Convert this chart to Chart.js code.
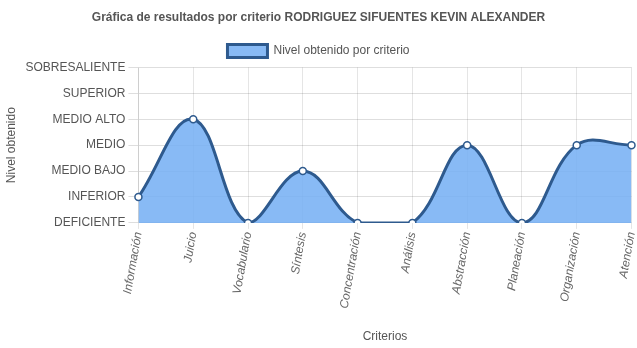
<!DOCTYPE html>
<html><head><meta charset="utf-8">
<script src="https://cdn.jsdelivr.net/npm/chart.js@4/dist/chart.umd.min.js"></script>
<style>html,body{margin:0;padding:0;background:#fff}#w{width:637px;height:348px}</style>
</head><body><div id="w"><canvas id="c"></canvas></div>
<script>
const categories = ["Información","Juicio","Vocabulario","Síntesis","Concentración","Análisis","Abstracción","Planeación","Organización","Atención"];
const levels = [1,4,0,2,0,0,3,0,3,3];
const levelLabels = ["DEFICIENTE","INFERIOR","MEDIO BAJO","MEDIO","MEDIO ALTO","SUPERIOR","SOBRESALIENTE"];
Chart.defaults.font.family = "'Liberation Sans', Arial, sans-serif";
Chart.defaults.color = "#666";
new Chart(document.getElementById('c'), {
  type: 'line',
  data: { labels: categories, datasets: [{
    label: 'Nivel obtenido por criterio',
    data: levels,
    fill: true,
    backgroundColor: 'rgba(120,176,244,0.88)',
    borderColor: '#2e5a8e',
    borderWidth: 3,
    tension: 0.4,
    pointRadius: 3.5,
    pointBackgroundColor: '#fff',
    pointBorderColor: '#2e5a8e',
    pointBorderWidth: 1.5
  }]},
  options: {
    responsive: true, maintainAspectRatio: false, animation: false,
    layout: { padding: { left: 0, right: 0, top: 0, bottom: 4 } },
    plugins: {
      title: { display: true, text: 'Gráfica de resultados por criterio RODRIGUEZ SIFUENTES KEVIN ALEXANDER', font: { size: 12, weight: 'bold' }, color: '#555', padding: { top: 10, bottom: 10 } },
      legend: { labels: { boxWidth: 40, boxHeight: 13, font: { size: 12 }, color: '#555' } },
      tooltip: { enabled: false }
    },
    scales: {
      x: {
        offset: false,
        afterFit: s => { s.paddingRight = 4; },
        grid: { color: 'rgba(0,0,0,0.1)', tickLength: 6 },
        ticks: { font: { size: 12, style: 'italic' }, minRotation: 80, maxRotation: 80, color: '#666', padding: 2 },
        title: { display: true, text: 'Criterios', font: { size: 12 }, color: '#555', padding: { top: 18, bottom: 0 } }
      },
      y: {
        min: 0, max: 6,
        grid: { color: 'rgba(0,0,0,0.13)', tickLength: 10 },
        ticks: { stepSize: 1, font: { size: 12 }, color: '#555', callback: v => levelLabels[v] },
        title: { display: true, text: 'Nivel obtenido', font: { size: 12 }, color: '#555' }
      }
    }
  }
});
</script></body></html>
